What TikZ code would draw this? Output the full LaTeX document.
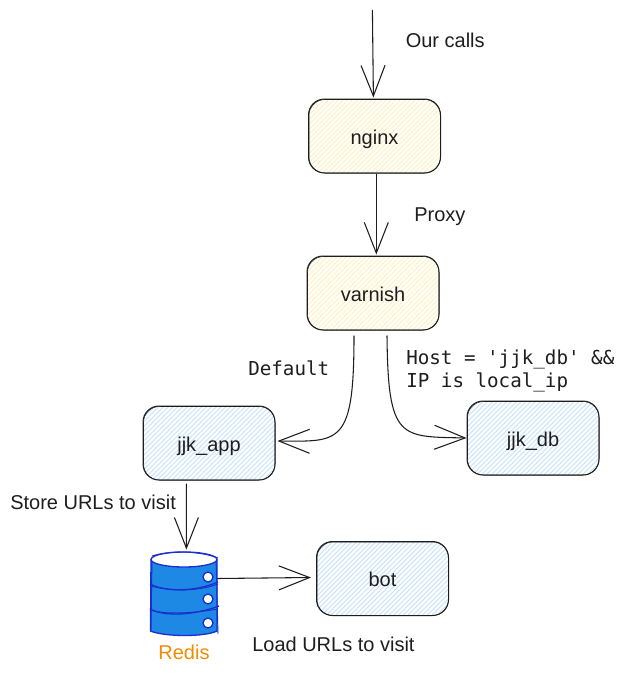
\documentclass[tikz,border=0pt]{standalone}
\usepackage{fontspec}
\setmainfont{Liberation Sans}
\newfontfamily\codefont{DejaVu Sans Mono}
\usetikzlibrary{arrows.meta,calc}
\definecolor{inkc}{HTML}{1E1E1E}
\definecolor{yellowh}{HTML}{FFF3C4}
\definecolor{blueh}{HTML}{CBE6FB}
\definecolor{redisblue}{HTML}{1E88E5}
\definecolor{redisedge}{HTML}{1A2FD0}
\definecolor{redisorange}{HTML}{F08C00}
\tikzset{
  x=0.75pt,y=-0.75pt,
  sketchbox/.style n args={1}{draw=inkc,line width=0.75pt,rounded corners=12pt,minimum width=99pt,minimum height=55.5pt,inner sep=0pt,text height=12.5pt,text depth=0.5pt,font=\fontsize{15pt}{17pt}\selectfont,text=inkc,
    path picture={
      \foreach \k in {-30,...,60}{
        \draw[#1,line width=0.8pt] ($(path picture bounding box.south west)+(\k*3.6pt,0)$) -- ++(80pt,80pt);
      }
    }},
  label/.style={inner sep=0pt,anchor=base west,font=\fontsize{15pt}{17pt}\selectfont,text=inkc},
  codelabel/.style={inner sep=0pt,anchor=base west,font=\codefont\fontsize{14.4pt}{17pt}\selectfont,text=inkc},
  conn/.style={draw=inkc,line width=0.8pt,-{Straight Barb[length=23pt,width=18pt,line width=0.8pt]}},
  rim/.style={draw=redisedge,line width=1pt},
  rimthin/.style={draw=redisedge,line width=0.7pt},
}
\begin{document}
\begin{tikzpicture}
\useasboundingbox[fill=white] (0,0) rectangle (626,674);
% boxes
\node[sketchbox=yellowh] (nginx) at (374.5,136) {nginx};
\node[sketchbox=yellowh] (varnish) at (373,293) {varnish};
\node[sketchbox=blueh] (app) at (209,443) {jjk\_app};
\node[sketchbox=blueh] (db) at (533,438) {jjk\_db};
\node[sketchbox=blueh] (bot) at (382.5,578.5) {bot};
% second sketch stroke
\foreach \n in {nginx,varnish,app,db,bot}{
  \draw[inkc,line width=0.4pt,rounded corners=12pt] ($(\n.south west)+(1,-0.5)$) rectangle ($(\n.north east)+(-0.5,1)$);
}
% redis icon
\node[inner sep=0pt,minimum width=51pt,minimum height=64pt] (redis) at (184,594.5) {};
\draw[rim,fill=redisblue] (151,560) -- (150.5,631) .. controls (165,637) and (205,637) .. (217,631) -- (217,560) -- cycle;
\draw[rimthin] (152,558) -- (151,632) (216,558) -- (218,634);
\draw[rim,fill=white] (184,559.5) ellipse [x radius=33,y radius=7.5];
\draw[rimthin] (152,556) .. controls (170,550) and (200,551) .. (218,558);
\draw[rim] (150,584) .. controls (165,592) and (195,592) .. (218,582);
\draw[rimthin] (151,586) .. controls (165,590) and (195,593) .. (218,584);
\draw[rim] (150,609) .. controls (165,617) and (195,615) .. (219,606);
\draw[rimthin] (151,610) .. controls (165,615) and (195,613) .. (218,609);
\foreach \y in {577,599,623}{
  \draw[rim,fill=white] (208,\y) circle [radius=5];
}
\node[inner sep=0pt,anchor=base,font=\fontsize{15pt}{17pt}\selectfont,text=redisorange] (redislabel) at (184,659) {Redis};
% free ends
\coordinate (top) at (372.4,10);
% connectors
\draw[conn] (top) -- ($(nginx.north)+(-1.1,-1)$);
\draw[conn] ($(nginx.south)+(1.8,0)$) -- ($(varnish.north)+(3.3,-1)$);
\draw[conn] ($(varnish.south)+(-19,5)$) .. controls ($(varnish.south)+(-19,115)$) and ($(varnish.south)+(-33,111)$) .. ($(app.east)+(2,-2)$);
\draw[conn] ($(varnish.south)+(14,5)$) .. controls ($(varnish.south)+(15,110)$) and ($(varnish.south)+(27,106)$) .. (db.west);
\draw[conn] ($(app.south)+(-22.6,3)$) -- ($(redis.north)+(2.4,-2)$);
\draw[conn] ($(redis.east)+(-1,-16)$) -- ($(bot.west)+(-5,-1)$);
% labels
\node[label] (l1) at (405.5,47.5) {Our calls};
\node[label] (l2) at (414,221) {Proxy};
\node[codelabel] (l3) at (406,364.5) {Host = 'jjk\_db' \&\&};
\node[codelabel] (l4) at (406,387.5) {IP is local\_ip};
\node[codelabel] (l5) at (248,375.5) {Default};
\node[label] (l6) at (10,509) {Store URLs to visit};
\node[label] (l7) at (252,651) {Load URLs to visit};
\end{tikzpicture}
\end{document}
